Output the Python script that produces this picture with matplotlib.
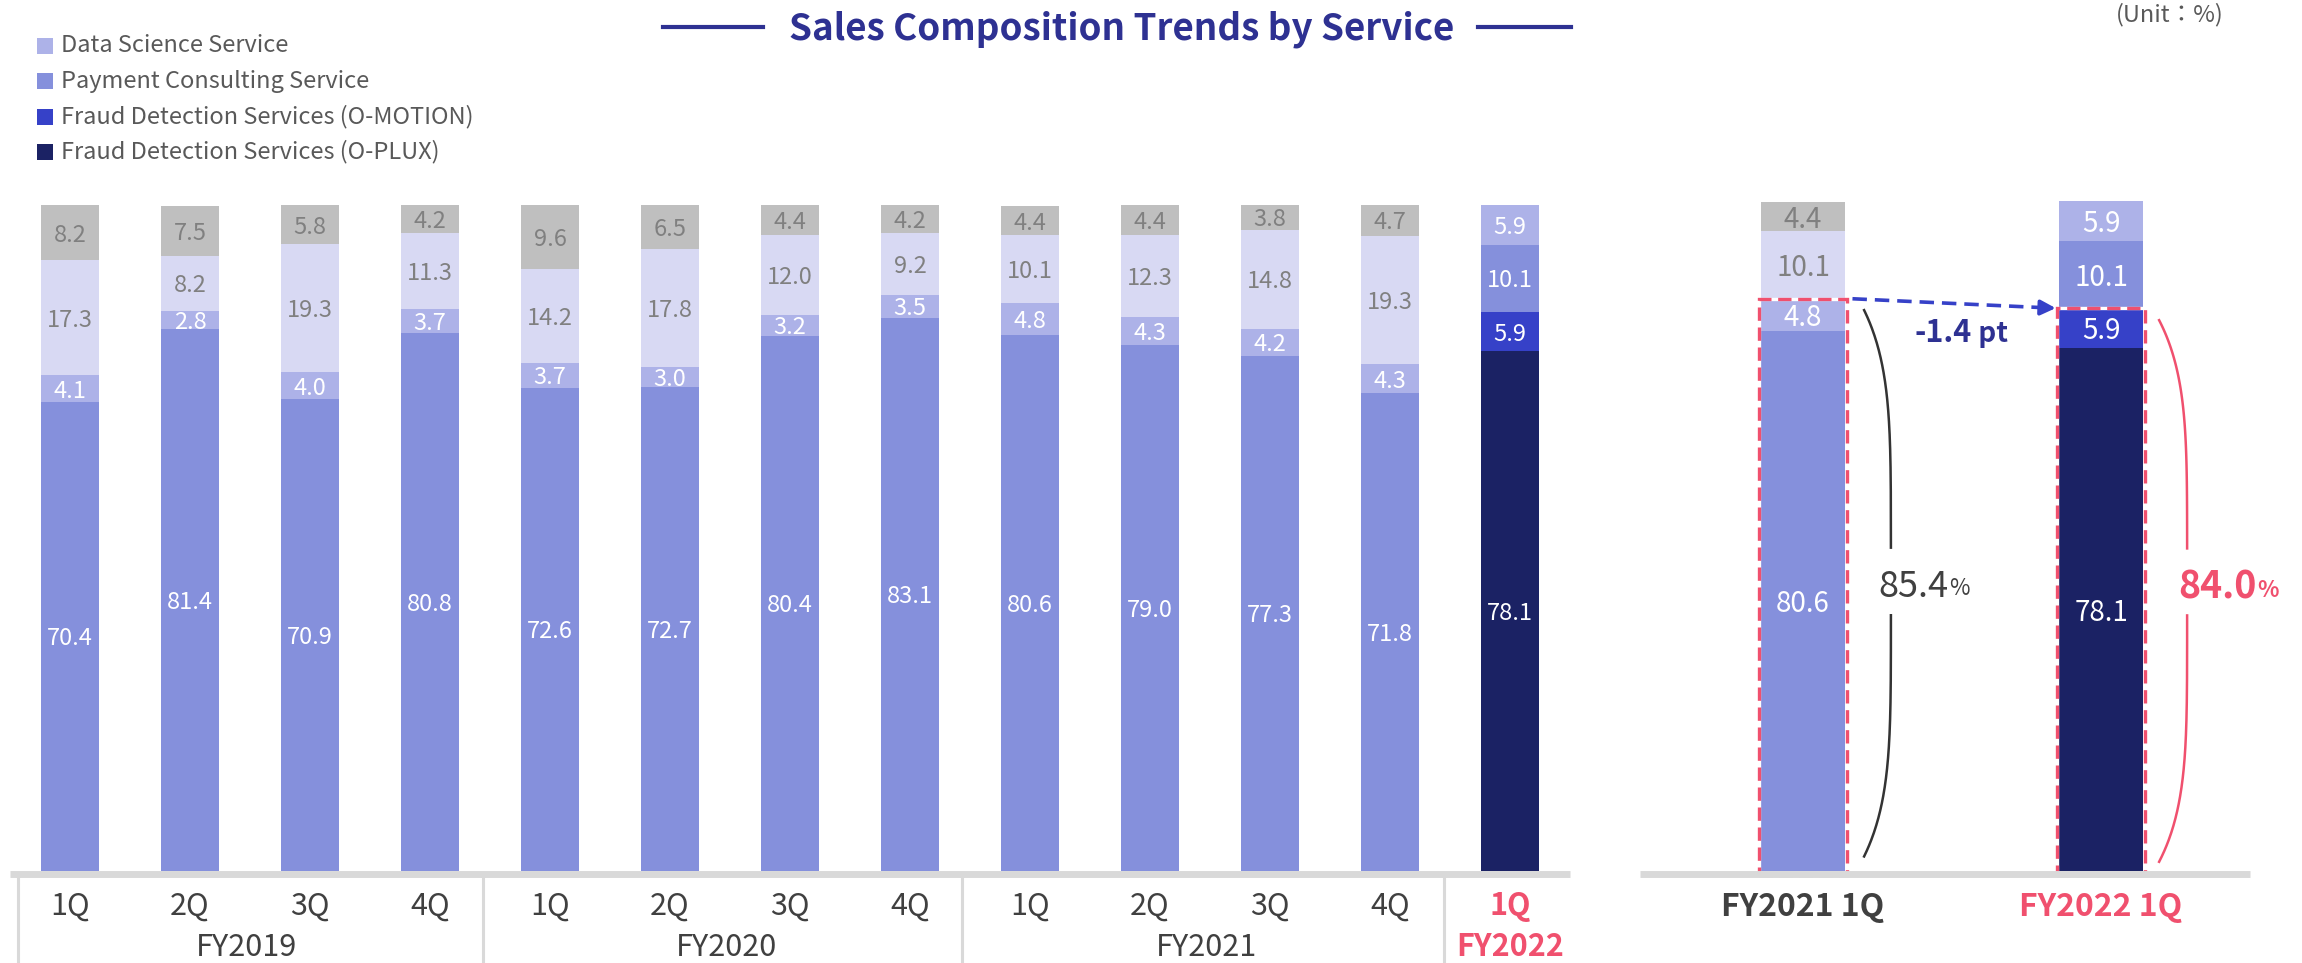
import matplotlib
matplotlib.use('Agg')
import matplotlib.pyplot as plt
import matplotlib.transforms as mtransforms
from matplotlib.lines import Line2D
from matplotlib.patches import Rectangle
import numpy as np

plt.rcParams['font.family'] = ['Noto Sans CJK JP', 'DejaVu Sans']

# ---------------- data ----------------
quarter_labels = ['1Q', '2Q', '3Q', '4Q', '1Q', '2Q', '3Q', '4Q', '1Q', '2Q', '3Q', '4Q', '1Q']
year_labels = ['FY2019', 'FY2020', 'FY2021']
last_year_label = 'FY2022'
# stacked segments, bottom to top
seg_bottom = [70.4, 81.4, 70.9, 80.8, 72.6, 72.7, 80.4, 83.1, 80.6, 79.0, 77.3, 71.8, 78.1]
seg_second = [4.1, 2.8, 4.0, 3.7, 3.7, 3.0, 3.2, 3.5, 4.8, 4.3, 4.2, 4.3, 5.9]
seg_third = [17.3, 8.2, 19.3, 11.3, 14.2, 17.8, 12.0, 9.2, 10.1, 12.3, 14.8, 19.3, 10.1]
seg_top = [8.2, 7.5, 5.8, 4.2, 9.6, 6.5, 4.4, 4.2, 4.4, 4.4, 3.8, 4.7, 5.9]

legend_labels = ['Data Science Service', 'Payment Consulting Service',
                 'Fraud Detection Services (O-MOTION)', 'Fraud Detection Services (O-PLUX)']
legend_colors = ['#ADB2E8', '#8590DC', '#3641C8', '#1B2264']

compare_labels = ['FY2021 1Q', 'FY2022 1Q']
compare_idx = [8, 12]

title = 'Sales Composition Trends by Service'
unit_text = '(Unit：%)'

# ---------------- style ----------------
old_colors = ['#8590DC', '#ADB2E8', '#D8D9F3', '#BFBFBF']
new_colors = ['#1B2264', '#3641C8', '#8590DC', '#ADB2E8']
old_txt = ['white', 'white', '#808080', '#808080']
new_txt = ['white', 'white', 'white', 'white']
PINK = '#F0506E'
NAVY = '#2E3192'
DARK = '#404040'
GRID = '#D9D9D9'

W, H = 2302, 963
fig = plt.figure(figsize=(W / 100, H / 100), dpi=100)


def rect(x0, x1, ytop, ybot):
    return [x0 / W, 1 - ybot / H, (x1 - x0) / W, (ybot - ytop) / H]


def fy(py):
    return 1 - py / H


segs = [seg_bottom, seg_second, seg_third, seg_top]
n = len(seg_bottom)


def draw_stacks(ax, xs, idxs, width, fs):
    bottoms = np.zeros(len(idxs))
    for k, s in enumerate(segs):
        vals = np.array([s[i] for i in idxs])
        cols = [new_colors[k] if i == n - 1 else old_colors[k] for i in idxs]
        ax.bar(xs, vals, width=width, bottom=bottoms, color=cols, linewidth=0, zorder=2)
        for j, i in enumerate(idxs):
            tc = new_txt[k] if i == n - 1 else old_txt[k]
            ax.text(xs[j], bottoms[j] + vals[j] / 2, f'{vals[j]:.1f}', ha='center',
                    va='center_baseline', color=tc, fontsize=fs, zorder=3)
        bottoms += vals


# ---------------- left panel ----------------
ax = fig.add_axes(rect(10, 1570, 205.5, 870.5))
ax.set_xlim(-0.5, 12.5)
ax.set_ylim(0, 100)
ax.axis('off')
x = np.arange(n)
draw_stacks(ax, x, list(range(n)), 0.49, 17)

bt = mtransforms.blended_transform_factory(ax.transData, fig.transFigure)
fig.add_artist(Line2D([-0.5, 12.5], [fy(874)] * 2, transform=bt, color=GRID, lw=5,
                      solid_capstyle='butt', zorder=1))
for sx in [-0.437, 3.44, 7.43, 11.45]:
    fig.add_artist(Line2D([sx, sx], [fy(879), fy(963)], transform=bt, color=GRID, lw=2.2))
for i, q in enumerate(quarter_labels):
    last = i == n - 1
    fig.text(x[i], fy(906), q, transform=bt, ha='center', va='center', fontsize=22,
             color=PINK if last else DARK, fontweight='bold' if last else 'normal')
for g, lab in enumerate(year_labels):
    fig.text(1.47 + 4 * g, fy(947), lab, transform=bt, ha='center', va='center',
             fontsize=22, color=DARK)
fig.text(x[-1], fy(947), last_year_label, transform=bt, ha='center', va='center',
         fontsize=22, color=PINK, fontweight='bold')

# ---------------- right panel ----------------
ax2 = fig.add_axes(rect(1640, 2250, 201, 870.5))
ax2.set_xlim(-0.547, 1.5)
ax2.set_ylim(0, 100)
ax2.axis('off')
xc = np.arange(len(compare_idx))
draw_stacks(ax2, xc, compare_idx, 0.28, 20)
bt2 = mtransforms.blended_transform_factory(ax2.transData, fig.transFigure)
fig.add_artist(Line2D([-0.547, 1.5], [fy(874)] * 2, transform=bt2, color=GRID, lw=5,
                      solid_capstyle='butt', zorder=1))
for j, lab in enumerate(compare_labels):
    fig.text(xc[j], fy(907), lab, transform=bt2, ha='center', va='center', fontsize=23,
             fontweight='bold', color=DARK if j == 0 else PINK)

fraud_totals = [seg_bottom[i] + seg_second[i] for i in compare_idx]
for j, tot in enumerate(fraud_totals):
    r = dict(xy=(xc[j] - 0.148, -0.6), width=0.296, height=tot + 0.6)
    ax2.add_patch(Rectangle(**r, fill=False, ec='white', lw=2.4, zorder=4, clip_on=False))
    ax2.add_patch(Rectangle(**r, fill=False, ec=PINK, lw=2.4, ls=(0, (4, 2)), zorder=5,
                            clip_on=False))

# dashed arrow between the two totals
ax2.plot([0.166, 0.80], [fraud_totals[0], fraud_totals[1] + 0.08], ls=(0, (4, 2.2)),
         color='#3641C8', lw=2.6, zorder=5)
ax2.annotate('', xy=(0.848, fraud_totals[1]), xytext=(0.79, fraud_totals[1] + 0.09),
             arrowprops=dict(arrowstyle='-|>,head_length=0.9,head_width=0.45', color='#3641C8',
                             lw=2.6, shrinkA=0, shrinkB=0), zorder=5)
diff = fraud_totals[1] - fraud_totals[0]
t1 = ax2.text(0.375, 80.3, f'{diff:.1f}', ha='left', va='center', fontsize=22,
              fontweight='bold', color=NAVY)
ax2.annotate(' pt', xy=(1, 0), xycoords=t1, va='bottom', ha='left', fontsize=20,
             fontweight='bold', color=NAVY, xytext=(0, 0.5), textcoords='offset points')


# bracket curves
def bracket(xv, xe, ytop, ybot, gap, color):
    yy = np.linspace(ybot, ytop, 300)
    mid = (ytop + ybot) / 2
    half = (ytop - ybot) / 2
    s = np.abs((yy - mid) / half)
    xx = xv - (xv - xe) * s ** 5
    m1 = yy >= gap[0]
    m2 = yy <= gap[1]
    ax2.plot(xx[m1], yy[m1], color=color, lw=1.8, zorder=5, clip_on=False)
    ax2.plot(xx[m2], yy[m2], color=color, lw=1.8, zorder=5, clip_on=False)


bracket(0.295, 0.205, 83.7, 2.1, (48.1, 38.3), '#333333')
bracket(1.289, 1.195, 82.2, 1.3, (48.1, 38.3), PINK)
ta = ax2.text(0.252, 43.0, f'{fraud_totals[0]:.1f}', ha='left', va='center_baseline',
              fontsize=26, color=DARK)
ax2.annotate('%', xy=(1, 0), xycoords=ta, va='bottom', ha='left', fontsize=16, color=DARK,
             xytext=(1, 3), textcoords='offset points')
tb = ax2.text(1.258, 43.0, f'{fraud_totals[1]:.1f}', ha='left', va='center_baseline',
              fontsize=27, color=PINK, fontweight='bold')
ax2.annotate('%', xy=(1, 0), xycoords=tb, va='bottom', ha='left', fontsize=16, color=PINK,
             fontweight='bold', xytext=(1, 3), textcoords='offset points')

# ---------------- title, legend, unit ----------------
fig.text(1122 / W, fy(29), title, ha='center', va='center', fontsize=26.5, fontweight='bold',
         color=NAVY)
for xa, xb in [(663, 763), (1478, 1571)]:
    fig.add_artist(Line2D([xa / W, xb / W], [fy(27)] * 2, color=NAVY, lw=3))
fig.text(2224 / W, fy(15), unit_text, ha='right', va='center', fontsize=17, color='#595959')

for j, (lab, c) in enumerate(zip(legend_labels, legend_colors)):
    yc = 46 + 35.3 * j
    fig.add_artist(Rectangle((37 / W, fy(yc + 8)), 16 / W, 16 / H, transform=fig.transFigure,
                             color=c, lw=0))
    fig.text(61 / W, fy(yc), lab, fontsize=17, color='#595959', va='center', ha='left')

fig.savefig('out.png', dpi=100)
